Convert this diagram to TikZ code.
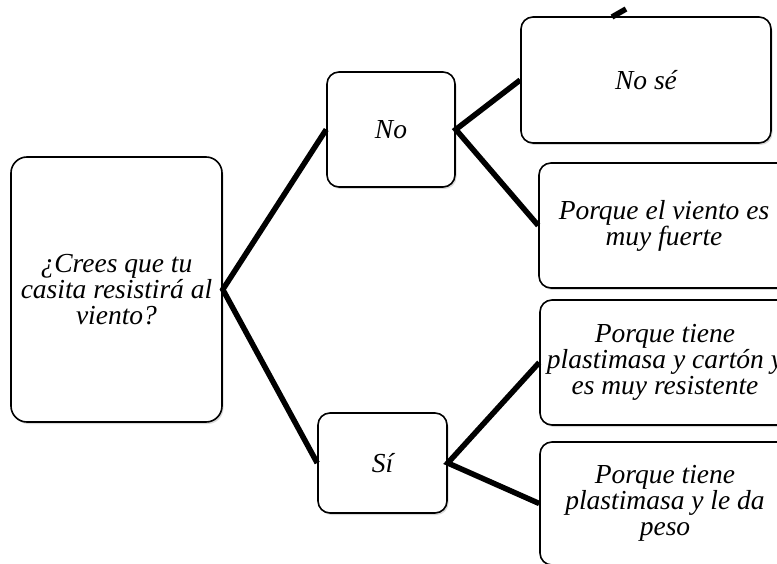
\documentclass[tikz,border=0pt]{standalone}
\usepackage{fontspec}
\setmainfont{Liberation Serif}
\usetikzlibrary{shadows}
\begin{document}
\begin{tikzpicture}[x=1pt,y=-1pt,
  box/.style={draw=black, line width=1.6pt, fill=white, rounded corners=12pt,
    align=center, inner sep=0pt, anchor=center,
    font=\fontsize{27.5}{26}\selectfont\itshape,
    drop shadow={shadow xshift=1.5pt, shadow yshift=-2pt, opacity=0.3, fill=gray}},
  conn/.style={draw=black, line width=5.5pt, line join=miter}]
\useasboundingbox (0,0) rectangle (777,564);
\clip (0,0) rectangle (777,564);
\node[box, rounded corners=16pt, minimum width=211pt, minimum height=265pt] (root) at (116.5,289.5) {¿Crees que tu\\casita resistirá al\\viento?};
\node[box, minimum width=128pt, minimum height=115pt] (no) at (391,129.5) {No};
\node[box, minimum width=129pt, minimum height=100pt] (si) at (382.5,463) {Sí};
\node[box, minimum width=250pt, minimum height=126pt] (nose) at (646,80) {No sé};
\node[box, minimum width=250pt, minimum height=125pt] (viento) at (664,225.5) {Porque el viento es\\muy fuerte};
\node[box, minimum width=250pt, minimum height=125pt] (carton) at (665,362.5) {Porque tiene\\plastimasa y cartón y\\es muy resistente};
\node[box, minimum width=250pt, minimum height=123pt] (peso) at (665,503.5) {Porque tiene\\plastimasa y le da\\peso};
\coordinate (stub) at (612,17);
\coordinate (stubend) at (626,9);
\draw[conn] (no.west) -- (root.east) -- (si.west);
\draw[conn] (nose.west) -- (no.east) -- (viento.west);
\draw[conn] (carton.west) -- (si.east) -- (peso.west);
\draw[conn] (stub) -- (stubend);
\end{tikzpicture}
\end{document}
